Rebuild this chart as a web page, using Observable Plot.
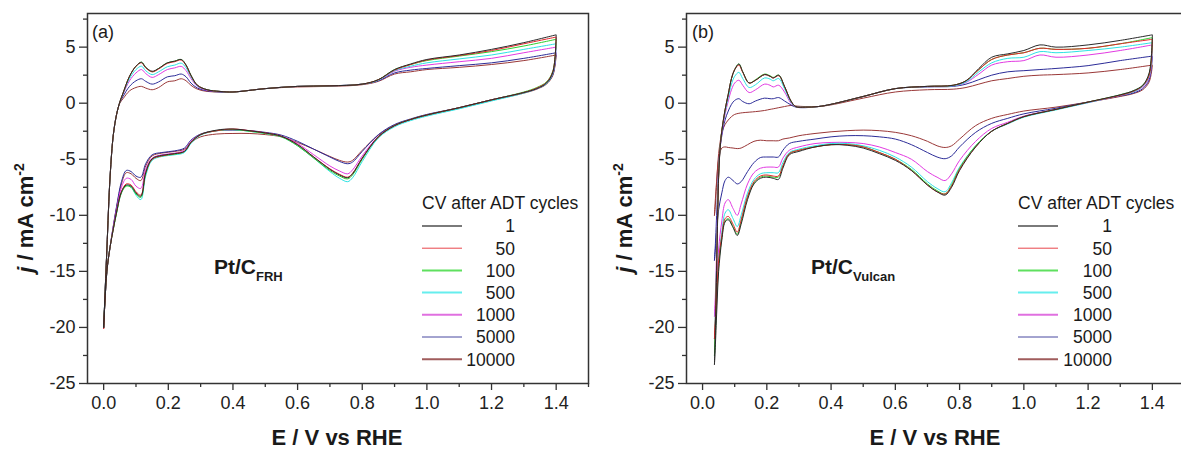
<!DOCTYPE html>
<html>
<head>
<meta charset="utf-8">
<script src="https://cdn.jsdelivr.net/npm/d3@7"></script>
<script src="https://cdn.jsdelivr.net/npm/@observablehq/plot@0.6"></script>
<style>
  html, body { margin: 0; padding: 0; background: #fff; }
  #wrap { position: relative; width: 1181px; height: 450px; overflow: hidden; font-family: "Liberation Sans", Arial, sans-serif; }
  #wrap > .p { position: absolute; top: 0; }
  #wrap > .p text { font-size: 18px; font-family: "Liberation Sans", Arial, sans-serif; fill: #222; }
  #ov { position: absolute; left: 0; top: 0; pointer-events: none; }
</style>
</head>
<body>
<div id="wrap"></div>
<script>
// ---------- categories / styling keys ----------
const cycles = ["1", "50", "100", "500", "1000", "5000", "10000"];
const colors = ["#2a2a2a", "#e3262c", "#2fd02f", "#2de3e3", "#e23ae2", "#2c2c98", "#9a3838"];
const legendColors = ["#7a7a7a", "#e8464c", "#5fe05f", "#66eeee", "#e070e0", "#4848a0", "#a05c5c"];
const legendWidths = [2, 1, 2, 2, 2, 1, 2];

const xMajor = [0, 0.2, 0.4, 0.6, 0.8, 1.0, 1.2, 1.4];
const xMinor = [0.1, 0.3, 0.5, 0.7, 0.9, 1.1, 1.3, 1.5];
const yMajor = [5, 0, -5, -10, -15, -20, -25];
const yMinor = [7.5, 2.5, -2.5, -7.5, -12.5, -17.5, -22.5];

// ---------- panel (a) Pt/C_FRH ----------
const eUpA = [0, 0.01, 0.02, 0.03, 0.04, 0.05, 0.06, 0.08, 0.10, 0.117, 0.13, 0.15, 0.17, 0.197, 0.22, 0.24, 0.255, 0.27, 0.29, 0.32, 0.36, 0.40, 0.50, 0.60, 0.70, 0.80, 0.85, 0.90, 0.95, 1.00, 1.10, 1.20, 1.30, 1.40];
const eDnA = [1.40, 1.39, 1.37, 1.34, 1.30, 1.20, 1.10, 1.00, 0.95, 0.90, 0.85, 0.80, 0.77, 0.755, 0.73, 0.70, 0.65, 0.60, 0.55, 0.50, 0.45, 0.40, 0.35, 0.30, 0.27, 0.25, 0.22, 0.18, 0.15, 0.13, 0.115, 0.10, 0.085, 0.07, 0.055, 0.04, 0.03, 0.02, 0.01, 0.0];

const a1Up = [-20, -13, -6.5, -2.8, -1.0, 0.1, 0.9, 2.4, 3.3, 3.65, 3.2, 2.85, 3.1, 3.6, 3.75, 3.9, 3.4, 2.5, 1.6, 1.2, 1.05, 1.0, 1.3, 1.5, 1.55, 1.7, 2.1, 3.0, 3.5, 3.9, 4.3, 4.8, 5.4, 6.1];
const a50Up = [-20.1, -13, -6.5, -2.8, -1.0, 0.1, 0.9, 2.4, 3.3, 3.6, 3.15, 2.8, 3.05, 3.55, 3.7, 3.85, 3.35, 2.45, 1.6, 1.2, 1.05, 1.0, 1.3, 1.5, 1.55, 1.7, 2.1, 2.95, 3.45, 3.85, 4.25, 4.7, 5.3, 5.9];
const a100Up = [-20, -13, -6.5, -2.8, -1.0, 0.1, 0.9, 2.4, 3.3, 3.66, 3.2, 2.8, 3.1, 3.6, 3.75, 3.9, 3.4, 2.5, 1.6, 1.2, 1.05, 1.0, 1.3, 1.5, 1.55, 1.7, 2.1, 3.0, 3.45, 3.8, 4.2, 4.6, 5.1, 5.7];
const a500Up = [-20, -13, -6.5, -2.8, -1.0, 0.1, 0.85, 2.2, 3.0, 3.3, 2.9, 2.55, 2.8, 3.25, 3.4, 3.57, 3.15, 2.35, 1.55, 1.2, 1.05, 1.0, 1.3, 1.5, 1.55, 1.7, 2.05, 2.9, 3.3, 3.6, 3.95, 4.3, 4.8, 5.3];
const a1000Up = [-20, -13, -6.5, -2.8, -1.0, 0.1, 0.8, 2.0, 2.7, 3.0, 2.65, 2.3, 2.55, 3.0, 3.15, 3.28, 2.9, 2.2, 1.5, 1.15, 1.05, 1.0, 1.3, 1.5, 1.55, 1.7, 2.05, 2.85, 3.2, 3.4, 3.7, 4.0, 4.5, 5.0];
const a5000Up = [-20, -13, -6.5, -2.8, -1.0, 0.05, 0.6, 1.5, 2.0, 2.18, 1.95, 1.7, 1.9, 2.35, 2.45, 2.6, 2.35, 1.8, 1.35, 1.1, 1.0, 1.0, 1.3, 1.5, 1.55, 1.7, 2.0, 2.7, 2.95, 3.1, 3.35, 3.6, 4.0, 4.5];
const a10000Up = [-20, -13, -6.5, -2.8, -1.0, 0.0, 0.4, 1.1, 1.4, 1.5, 1.35, 1.2, 1.4, 1.9, 2.0, 2.18, 2.0, 1.6, 1.25, 1.05, 1.0, 1.0, 1.3, 1.45, 1.5, 1.65, 1.95, 2.6, 2.8, 3.0, 3.2, 3.45, 3.8, 4.3];

const a1Dn = [6.1, 2.8, 1.8, 1.3, 0.95, 0.3, -0.4, -1.05, -1.45, -2.0, -3.0, -4.9, -6.3, -6.65, -6.4, -5.9, -4.8, -3.7, -2.95, -2.65, -2.45, -2.3, -2.4, -2.8, -3.5, -4.3, -4.5, -4.65, -4.95, -6.2, -8.3, -8.0, -7.4, -7.3, -7.9, -9.7, -11.2, -12.8, -15.0, -20];
const a50Dn = [5.9, 2.85, 1.85, 1.35, 0.95, 0.3, -0.4, -1.05, -1.45, -2.0, -3.0, -4.9, -6.25, -6.6, -6.35, -5.85, -4.8, -3.7, -2.95, -2.65, -2.45, -2.3, -2.45, -2.8, -3.5, -4.3, -4.5, -4.7, -5.0, -6.2, -8.2, -7.9, -7.3, -7.2, -7.9, -9.7, -11.2, -12.8, -15.0, -20.1];
const a100Dn = [5.7, 2.9, 1.9, 1.4, 1.0, 0.3, -0.4, -1.05, -1.45, -2.0, -3.0, -5.0, -6.4, -6.75, -6.5, -6.0, -4.9, -3.8, -3.0, -2.7, -2.5, -2.35, -2.45, -2.8, -3.5, -4.3, -4.55, -4.7, -5.0, -6.3, -8.4, -8.1, -7.5, -7.4, -8.0, -9.8, -11.2, -12.8, -15.0, -20];
const a500Dn = [5.3, 2.7, 1.75, 1.3, 0.9, 0.2, -0.5, -1.15, -1.55, -2.1, -3.1, -5.2, -6.65, -7.0, -6.7, -6.1, -4.9, -3.8, -3.0, -2.7, -2.5, -2.35, -2.45, -2.85, -3.6, -4.4, -4.6, -4.75, -5.1, -6.5, -8.6, -8.2, -7.5, -7.35, -8.0, -9.8, -11.2, -12.8, -15.0, -20];
const a1000Dn = [5.0, 2.7, 1.8, 1.3, 0.95, 0.3, -0.4, -1.05, -1.45, -2.0, -2.95, -4.7, -5.95, -6.3, -6.05, -5.6, -4.6, -3.6, -2.95, -2.65, -2.45, -2.35, -2.45, -2.8, -3.4, -4.2, -4.45, -4.6, -4.9, -5.9, -7.6, -7.4, -6.8, -6.7, -7.5, -9.5, -11.0, -12.8, -15.0, -20];
const a5000Dn = [4.5, 2.6, 1.75, 1.3, 0.95, 0.3, -0.4, -1.0, -1.4, -1.9, -2.8, -4.3, -5.25, -5.4, -5.2, -4.8, -4.1, -3.4, -2.85, -2.6, -2.45, -2.4, -2.45, -2.75, -3.3, -4.0, -4.25, -4.4, -4.6, -5.4, -6.6, -6.5, -6.1, -6.0, -7.0, -9.2, -10.9, -12.8, -15.0, -20];
const a10000Dn = [4.3, 2.5, 1.7, 1.25, 0.9, 0.25, -0.45, -1.05, -1.45, -1.95, -2.85, -4.2, -5.1, -5.25, -5.1, -4.75, -4.1, -3.5, -3.0, -2.8, -2.7, -2.7, -2.75, -3.0, -3.5, -4.1, -4.3, -4.45, -4.7, -5.6, -6.9, -6.7, -6.3, -6.2, -7.2, -9.3, -11.0, -12.8, -15.0, -20];

// ---------- panel (b) Pt/C_Vulcan ----------
const eUpB = [0.037, 0.04, 0.043, 0.046, 0.05, 0.055, 0.06, 0.07, 0.08, 0.09, 0.10, 0.113, 0.125, 0.145, 0.165, 0.193, 0.21, 0.22, 0.237, 0.255, 0.275, 0.29, 0.32, 0.36, 0.40, 0.50, 0.60, 0.70, 0.78, 0.82, 0.86, 0.90, 0.95, 1.00, 1.05, 1.10, 1.20, 1.30, 1.40];
const eDnB = [1.40, 1.39, 1.37, 1.34, 1.30, 1.20, 1.10, 1.00, 0.95, 0.90, 0.85, 0.80, 0.775, 0.755, 0.73, 0.70, 0.65, 0.60, 0.55, 0.50, 0.45, 0.40, 0.35, 0.30, 0.27, 0.25, 0.236, 0.22, 0.20, 0.18, 0.16, 0.14, 0.12, 0.108, 0.095, 0.08, 0.07, 0.06, 0.05, 0.045, 0.04, 0.037];

const b1Up = [-23.3, -20, -16, -11.6, -6.6, -3.9, -2.5, -0.6, 0.8, 2.2, 3.0, 3.5, 2.8, 1.8, 2.05, 2.55, 2.4, 2.25, 2.5, 1.5, 0.2, -0.3, -0.35, -0.3, -0.1, 0.6, 1.3, 1.5, 1.6, 2.0, 3.1, 4.1, 4.4, 4.7, 5.2, 5.0, 5.2, 5.6, 6.1];
const b50Up = [-21, -19, -15.5, -11.4, -6.5, -3.8, -2.4, -0.6, 0.8, 2.2, 3.0, 3.4, 2.75, 1.8, 2.05, 2.55, 2.4, 2.25, 2.45, 1.5, 0.2, -0.3, -0.35, -0.3, -0.1, 0.6, 1.3, 1.5, 1.6, 2.0, 3.0, 3.9, 4.3, 4.5, 4.9, 4.8, 4.9, 5.3, 5.7];
const b100Up = [-22.5, -19.5, -15.5, -11.4, -6.5, -3.8, -2.4, -0.6, 0.8, 2.2, 3.0, 3.5, 2.8, 1.8, 2.1, 2.6, 2.45, 2.3, 2.5, 1.5, 0.2, -0.3, -0.35, -0.3, -0.1, 0.6, 1.3, 1.5, 1.6, 2.0, 3.0, 3.9, 4.3, 4.5, 4.9, 4.8, 4.9, 5.3, 5.85];
const b500Up = [-21, -18.5, -15, -11, -6.4, -3.8, -2.5, -0.8, 0.5, 1.7, 2.4, 2.75, 2.2, 1.4, 1.65, 2.25, 2.15, 2.0, 2.2, 1.3, 0.1, -0.3, -0.35, -0.3, -0.1, 0.6, 1.3, 1.5, 1.55, 1.9, 2.8, 3.6, 4.0, 4.1, 4.6, 4.5, 4.7, 5.0, 5.4];
const b1000Up = [-19, -17, -14, -10.5, -6.3, -3.9, -2.7, -1.0, 0.2, 1.2, 1.8, 2.05, 1.6, 0.95, 1.2, 1.7, 1.6, 1.45, 1.6, 1.0, 0.0, -0.3, -0.35, -0.3, -0.1, 0.6, 1.3, 1.5, 1.55, 1.85, 2.6, 3.4, 3.7, 3.8, 4.3, 4.1, 4.3, 4.7, 5.2];
const b5000Up = [-14, -12.5, -10.5, -8.5, -5.8, -3.9, -2.9, -1.5, -0.7, -0.1, 0.25, 0.4, 0.15, -0.05, 0.2, 0.45, 0.4, 0.4, 0.5, 0.2, -0.15, -0.35, -0.4, -0.3, -0.1, 0.6, 1.3, 1.45, 1.5, 1.7, 2.1, 2.5, 2.8, 2.9, 3.0, 3.1, 3.35, 3.8, 4.2];
const b10000Up = [-10, -9, -7.5, -6, -4.5, -3.4, -2.6, -1.9, -1.5, -1.2, -1.0, -0.9, -0.85, -0.8, -0.75, -0.65, -0.55, -0.5, -0.4, -0.3, -0.2, -0.25, -0.3, -0.3, -0.15, 0.45, 1.0, 1.2, 1.25, 1.4, 1.7, 2.0, 2.2, 2.4, 2.5, 2.55, 2.7, 3.0, 3.4];

const b1Dn = [6.1, 2.7, 1.6, 1.1, 0.75, 0.1, -0.55, -1.2, -1.8, -2.5, -3.9, -6.0, -7.5, -8.2, -7.9, -7.3, -6.0, -5.1, -4.5, -4.0, -3.75, -3.7, -3.9, -4.3, -4.6, -5.8, -6.8, -6.7, -6.6, -6.7, -7.2, -8.6, -10.8, -11.8, -11.1, -10.4, -10.6, -12.2, -15, -18, -21.5, -23.3];
const b50Dn = [5.7, 2.5, 1.55, 1.05, 0.7, 0.1, -0.55, -1.2, -1.8, -2.5, -3.9, -5.9, -7.4, -8.1, -7.9, -7.3, -6.0, -5.0, -4.4, -3.9, -3.7, -3.7, -3.9, -4.2, -4.5, -5.6, -6.5, -6.5, -6.4, -6.5, -7.0, -8.3, -10.4, -11.5, -10.8, -10.1, -10.3, -11.8, -14, -16.5, -19.5, -21];
const b100Dn = [5.85, 2.6, 1.6, 1.1, 0.75, 0.1, -0.55, -1.2, -1.8, -2.5, -3.8, -5.8, -7.3, -8.1, -7.8, -7.2, -5.9, -5.0, -4.4, -3.9, -3.7, -3.7, -3.9, -4.2, -4.5, -5.6, -6.6, -6.6, -6.5, -6.6, -7.1, -8.4, -10.6, -11.7, -11.0, -10.3, -10.5, -12.0, -14.5, -17, -20.5, -22.5];
const b500Dn = [5.4, 2.4, 1.5, 1.0, 0.7, 0.05, -0.6, -1.25, -1.85, -2.5, -3.8, -5.7, -7.1, -7.9, -7.6, -7.0, -5.7, -4.8, -4.2, -3.8, -3.6, -3.6, -3.8, -4.1, -4.4, -5.3, -6.2, -6.2, -6.2, -6.3, -6.8, -8.0, -10.0, -11.0, -10.3, -9.5, -9.8, -11.5, -14, -16.5, -19.5, -21];
const b1000Dn = [5.2, 2.3, 1.45, 1.0, 0.7, 0.05, -0.55, -1.15, -1.7, -2.25, -3.4, -5.1, -6.3, -6.9, -6.6, -6.1, -5.0, -4.4, -3.9, -3.6, -3.5, -3.5, -3.6, -3.9, -4.2, -4.9, -5.7, -5.7, -5.7, -5.8, -6.2, -7.2, -9.0, -10.0, -9.4, -8.6, -8.9, -10.5, -13, -15.5, -18, -19];
const b5000Dn = [4.2, 2.1, 1.3, 0.9, 0.65, 0.1, -0.45, -0.95, -1.35, -1.8, -2.6, -3.9, -4.7, -4.95, -4.8, -4.4, -3.7, -3.2, -3.0, -2.9, -2.9, -3.0, -3.2, -3.4, -3.6, -4.2, -4.8, -4.8, -4.8, -4.85, -5.3, -6.1, -7.0, -7.2, -6.9, -6.6, -6.9, -8.0, -9.5, -11, -13, -14];
const b10000Dn = [3.4, 1.9, 1.2, 0.85, 0.6, 0.1, -0.35, -0.7, -1.0, -1.35, -2.0, -3.2, -3.8, -3.95, -3.8, -3.4, -2.9, -2.6, -2.45, -2.4, -2.45, -2.55, -2.7, -2.9, -3.1, -3.2, -3.35, -3.35, -3.35, -3.3, -3.4, -3.7, -4.0, -4.05, -4.0, -3.95, -3.9, -4.0, -5.0, -6.5, -8.5, -10];

// ---------- build ----------
function loopData(eUp, eDn, ups, dns) {
  const rows = [];
  // draw oldest cycle last so it sits on top
  for (let i = cycles.length - 1; i >= 0; i--) {
    const c = cycles[i];
    eUp.forEach((e, k) => rows.push({E: e, j: ups[i][k], c}));
    eDn.forEach((e, k) => rows.push({E: e, j: dns[i][k], c}));
  }
  return rows;
}

const FONT = "'Liberation Sans', Arial, sans-serif";

function panel(data, width, marginLeft) {
  return Plot.plot({
    width, height: 450,
    marginLeft, marginRight: 2, marginTop: 13, marginBottom: 67,
    x: {domain: [-0.05, 1.5]},
    y: {domain: [-25, 8]},
    color: {domain: cycles, range: colors},
    style: {fontFamily: FONT, fontSize: "18px", color: "#222", background: "transparent", overflow: "visible"},
    marks: [
      Plot.line(data, {x: "E", y: "j", z: "c", stroke: "c", strokeWidth: 1, curve: "catmull-rom"}),
      Plot.axisX({ticks: xMajor, tickSize: 7, tickPadding: 6, tickFormat: d3.format(".1f"), label: null, stroke: "#333", strokeWidth: 1.3}),
      Plot.axisX({ticks: xMinor, tickSize: 4, tickFormat: () => "", label: null, stroke: "#333", strokeWidth: 1.3}),
      Plot.axisY({ticks: yMajor, tickSize: 8, tickPadding: 4, tickFormat: d => String(d), label: null, stroke: "#333", strokeWidth: 1.3}),
      Plot.axisY({ticks: yMinor, tickSize: 4, tickFormat: () => "", label: null, stroke: "#333", strokeWidth: 1.3}),
      Plot.frame({stroke: "#333", strokeWidth: 1.5})
    ]
  });
}

const wrap = document.getElementById("wrap");
const dataA = loopData(eUpA, eDnA,
  [a1Up, a50Up, a100Up, a500Up, a1000Up, a5000Up, a10000Up],
  [a1Dn, a50Dn, a100Dn, a500Dn, a1000Dn, a5000Dn, a10000Dn]);
const dataB = loopData(eUpB, eDnB,
  [b1Up, b50Up, b100Up, b500Up, b1000Up, b5000Up, b10000Up],
  [b1Dn, b50Dn, b100Dn, b500Dn, b1000Dn, b5000Dn, b10000Dn]);

const pA = panel(dataA, 590, 87);
pA.classList.add("p"); pA.style.left = "0px";
wrap.appendChild(pA);
const pB = panel(dataB, 596, 96);
pB.classList.add("p"); pB.style.left = "590px";
wrap.appendChild(pB);

// ---------- text overlay (titles, labels, legends) ----------
const ov = d3.select(wrap).append("svg").attr("id", "ov")
  .attr("width", 1181).attr("height", 450)
  .style("font-family", FONT).style("fill", "#1a1a1a");

function panelText(o, tag, sub, subText, legendX, labelRight) {
  // panel tag
  ov.append("text").attr("x", o + 92).attr("y", 38).attr("font-size", 18).text(tag);
  // material label
  const t = ov.append("text").attr("x", sub).attr("y", 274).attr("font-size", 21).attr("font-weight", "bold");
  t.append("tspan").text("Pt/C");
  t.append("tspan").attr("font-size", 13).attr("dy", 7).text(subText);
  // x title
  const cx = o === 0 ? 337 : 935;
  ov.append("text").attr("x", cx).attr("y", 445).attr("text-anchor", "middle")
    .attr("font-size", 22).attr("font-weight", "bold").text("E / V vs RHE");
  // y title
  const yx = o === 0 ? 33 : 632;
  const yt = ov.append("text").attr("transform", `translate(${yx},218) rotate(-90)`)
    .attr("text-anchor", "middle").attr("font-size", 22).attr("font-weight", "bold");
  yt.append("tspan").attr("font-style", "italic").text("j");
  yt.append("tspan").text(" / mA cm");
  yt.append("tspan").attr("font-size", 14).attr("dy", -9).text("-2");
  // legend
  ov.append("text").attr("x", legendX).attr("y", 209).attr("font-size", 17.5).text("CV after ADT cycles");
  cycles.forEach((c, i) => {
    const yy = 226 + 22.2 * i;
    ov.append("line").attr("x1", legendX).attr("x2", legendX + 40).attr("y1", yy).attr("y2", yy)
      .attr("stroke", legendColors[i]).attr("stroke-width", legendWidths[i]);
    ov.append("text").attr("x", labelRight).attr("y", yy + 6.3).attr("text-anchor", "end")
      .attr("font-size", 17.5).text(c);
  });
}
panelText(0, "(a)", 214, "FRH", 422, 515);
panelText(600, "(b)", 811, "Vulcan", 1018, 1112);
</script>
</body>
</html>
